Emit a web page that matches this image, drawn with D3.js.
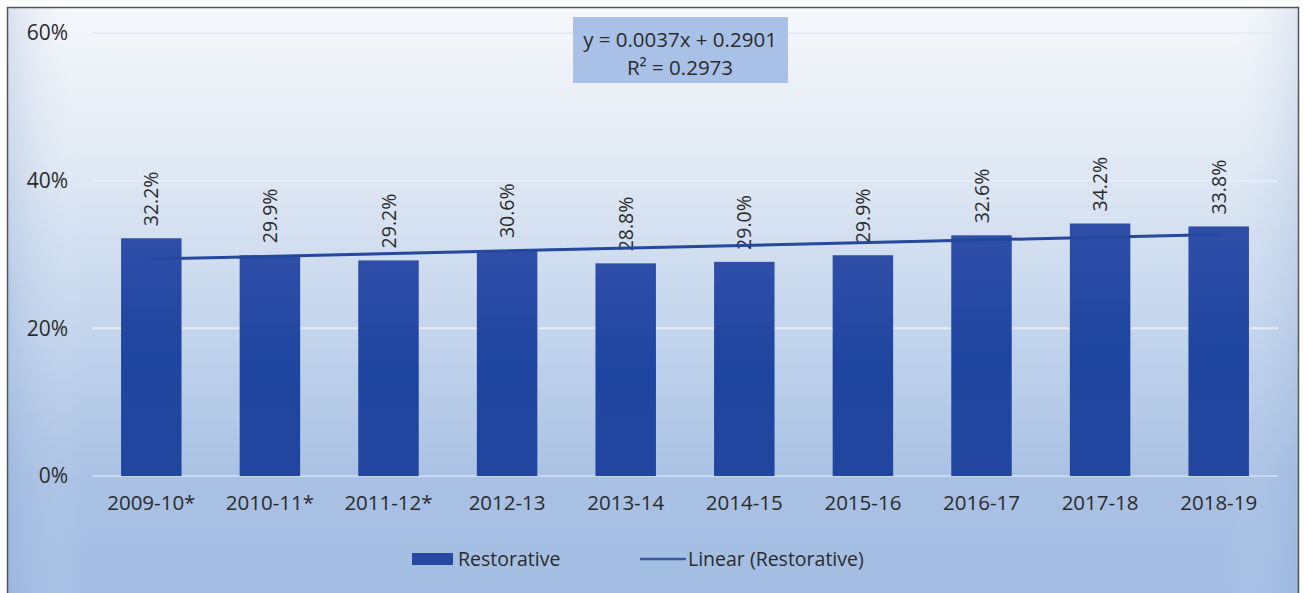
<!DOCTYPE html>
<html><head><meta charset="utf-8">
<script src="https://cdn.jsdelivr.net/npm/d3@7"></script>
<style>html,body{margin:0;padding:0;background:#fff;}svg{display:block;}</style>
</head><body>
<script>
const categories = ["2009-10*","2010-11*","2011-12*","2012-13","2013-14","2014-15","2015-16","2016-17","2017-18","2018-19"];
const values = [0.322,0.299,0.292,0.306,0.288,0.290,0.299,0.326,0.342,0.338];
const yTicks = [0,0.2,0.4,0.6];
const trendSlope = 0.0037, trendIntercept = 0.2901;
const equationLines = ["y = 0.0037x + 0.2901","R\u00b2 = 0.2973"];
const legendLabels = ["Restorative","Linear (Restorative)"];

const W=1304,H=593;
const svg=d3.select("body").append("svg").attr("width",W).attr("height",H);
const defs=svg.append("defs");
const bg=defs.append("linearGradient").attr("id","bg").attr("x1",0).attr("y1",0).attr("x2",0).attr("y2",1);
[[0,"#f6f8fb"],[0.25,"#e2eaf4"],[0.55,"#c3d4ec"],[0.8,"#a9c1e4"],[1,"#a3bde3"]].forEach(s=>bg.append("stop").attr("offset",s[0]).attr("stop-color",s[1]));
const bg2=defs.append("linearGradient").attr("id","bgside").attr("x1",0).attr("y1",0).attr("x2",1).attr("y2",0);
[[0,"#7f9fd0",0.25],[0.06,"#ffffff",0],[0.94,"#ffffff",0],[1,"#7f9fd0",0.2]].forEach(s=>bg2.append("stop").attr("offset",s[0]).attr("stop-color",s[1]).attr("stop-opacity",s[2]));
const bar=defs.append("linearGradient").attr("id","bar").attr("x1",0).attr("y1",0).attr("x2",0).attr("y2",1);
[[0,"#2f4ea8"],[0.5,"#1e459f"],[1,"#22469f"]].forEach(s=>bar.append("stop").attr("offset",s[0]).attr("stop-color",s[1]));

svg.append("rect").attr("x",7).attr("y",7).attr("width",1292).attr("height",592).attr("fill","url(#bg)");
svg.append("rect").attr("x",7).attr("y",7).attr("width",1292).attr("height",592).attr("fill","url(#bgside)");
svg.append("rect").attr("x",7.5).attr("y",7.5).attr("width",1291).attr("height",592).attr("fill","none").attr("stroke","#555").attr("stroke-width",1.5);

const font="'Open Sans', 'Noto Sans', sans-serif";
const txt="#2b2b2b";
const x=d3.scaleBand().domain(categories).range([92,1278]).paddingInner(0.49).paddingOuter(0.245);
const y=d3.scaleLinear().domain([0,0.6]).range([476,33]);

// gridlines
svg.append("g").selectAll("line").data(yTicks).join("line")
 .attr("x1",92).attr("x2",1278).attr("y1",d=>y(d)).attr("y2",d=>y(d))
 .attr("stroke",d=>d===0?"#c9d8ee":"#e6edf6").attr("stroke-width",2);

// y axis
const yAxis=d3.axisLeft(y).tickValues(yTicks).tickFormat(d3.format(".0%")).tickSize(0).tickPadding(0);
const ga=svg.append("g").attr("transform","translate(68,0)").call(yAxis);
ga.select(".domain").remove();
ga.selectAll("text").attr("font-family",font).attr("font-size",21).attr("fill",txt).attr("text-anchor","end");

// bars
svg.append("g").selectAll("rect").data(values).join("rect")
 .attr("x",(d,i)=>x(categories[i])).attr("width",x.bandwidth())
 .attr("y",d=>y(d)).attr("height",d=>y(0)-y(d)).attr("fill","url(#bar)");

// x axis
const xAxis=d3.axisBottom(x).tickSize(0).tickPadding(0);
const gx=svg.append("g").attr("transform","translate(0,495)").call(xAxis);
gx.select(".domain").remove();
gx.selectAll("text").attr("font-family",font).attr("font-size",20.5).attr("fill",txt).attr("dy","0.71em");

// data labels
svg.append("g").selectAll("text").data(values).join("text")
 .attr("transform",(d,i)=>`translate(${x(categories[i])+x.bandwidth()/2+7},${y(d)-12}) rotate(-90)`)
 .attr("font-family",font).attr("font-size",19.5).attr("fill",txt).attr("text-anchor","start")
 .text(d=>d3.format(".1%")(d));

// trendline
const trend=[1,categories.length].map(i=>({i,v:trendIntercept+trendSlope*i}));
svg.append("line")
 .attr("x1",x(categories[0])+x.bandwidth()/2).attr("y1",y(trend[0].v))
 .attr("x2",x(categories[categories.length-1])+x.bandwidth()/2).attr("y2",y(trend[1].v))
 .attr("stroke","#24499c").attr("stroke-width",3);

// equation box
svg.append("rect").attr("x",573).attr("y",17).attr("width",215).attr("height",66).attr("fill","#a9c1e6");
svg.append("g").selectAll("text").data(equationLines).join("text")
 .attr("x",680).attr("y",(d,i)=>47+i*28).attr("text-anchor","middle")
 .attr("font-family",font).attr("font-size",20.5).attr("fill",txt).text(d=>d);

// legend
const lg=svg.append("g");
lg.append("rect").attr("x",412).attr("y",553).attr("width",41).attr("height",12).attr("fill","#2748a2");
lg.append("text").attr("x",458).attr("y",566).attr("font-family",font).attr("font-size",19.5).attr("fill",txt).text(legendLabels[0]);
lg.append("line").attr("x1",640).attr("x2",686).attr("y1",559).attr("y2",559).attr("stroke","#3a5a9e").attr("stroke-width",2.5);
lg.append("text").attr("x",688).attr("y",566).attr("font-family",font).attr("font-size",19.5).attr("fill",txt).text(legendLabels[1]);
</script>
</body></html>
